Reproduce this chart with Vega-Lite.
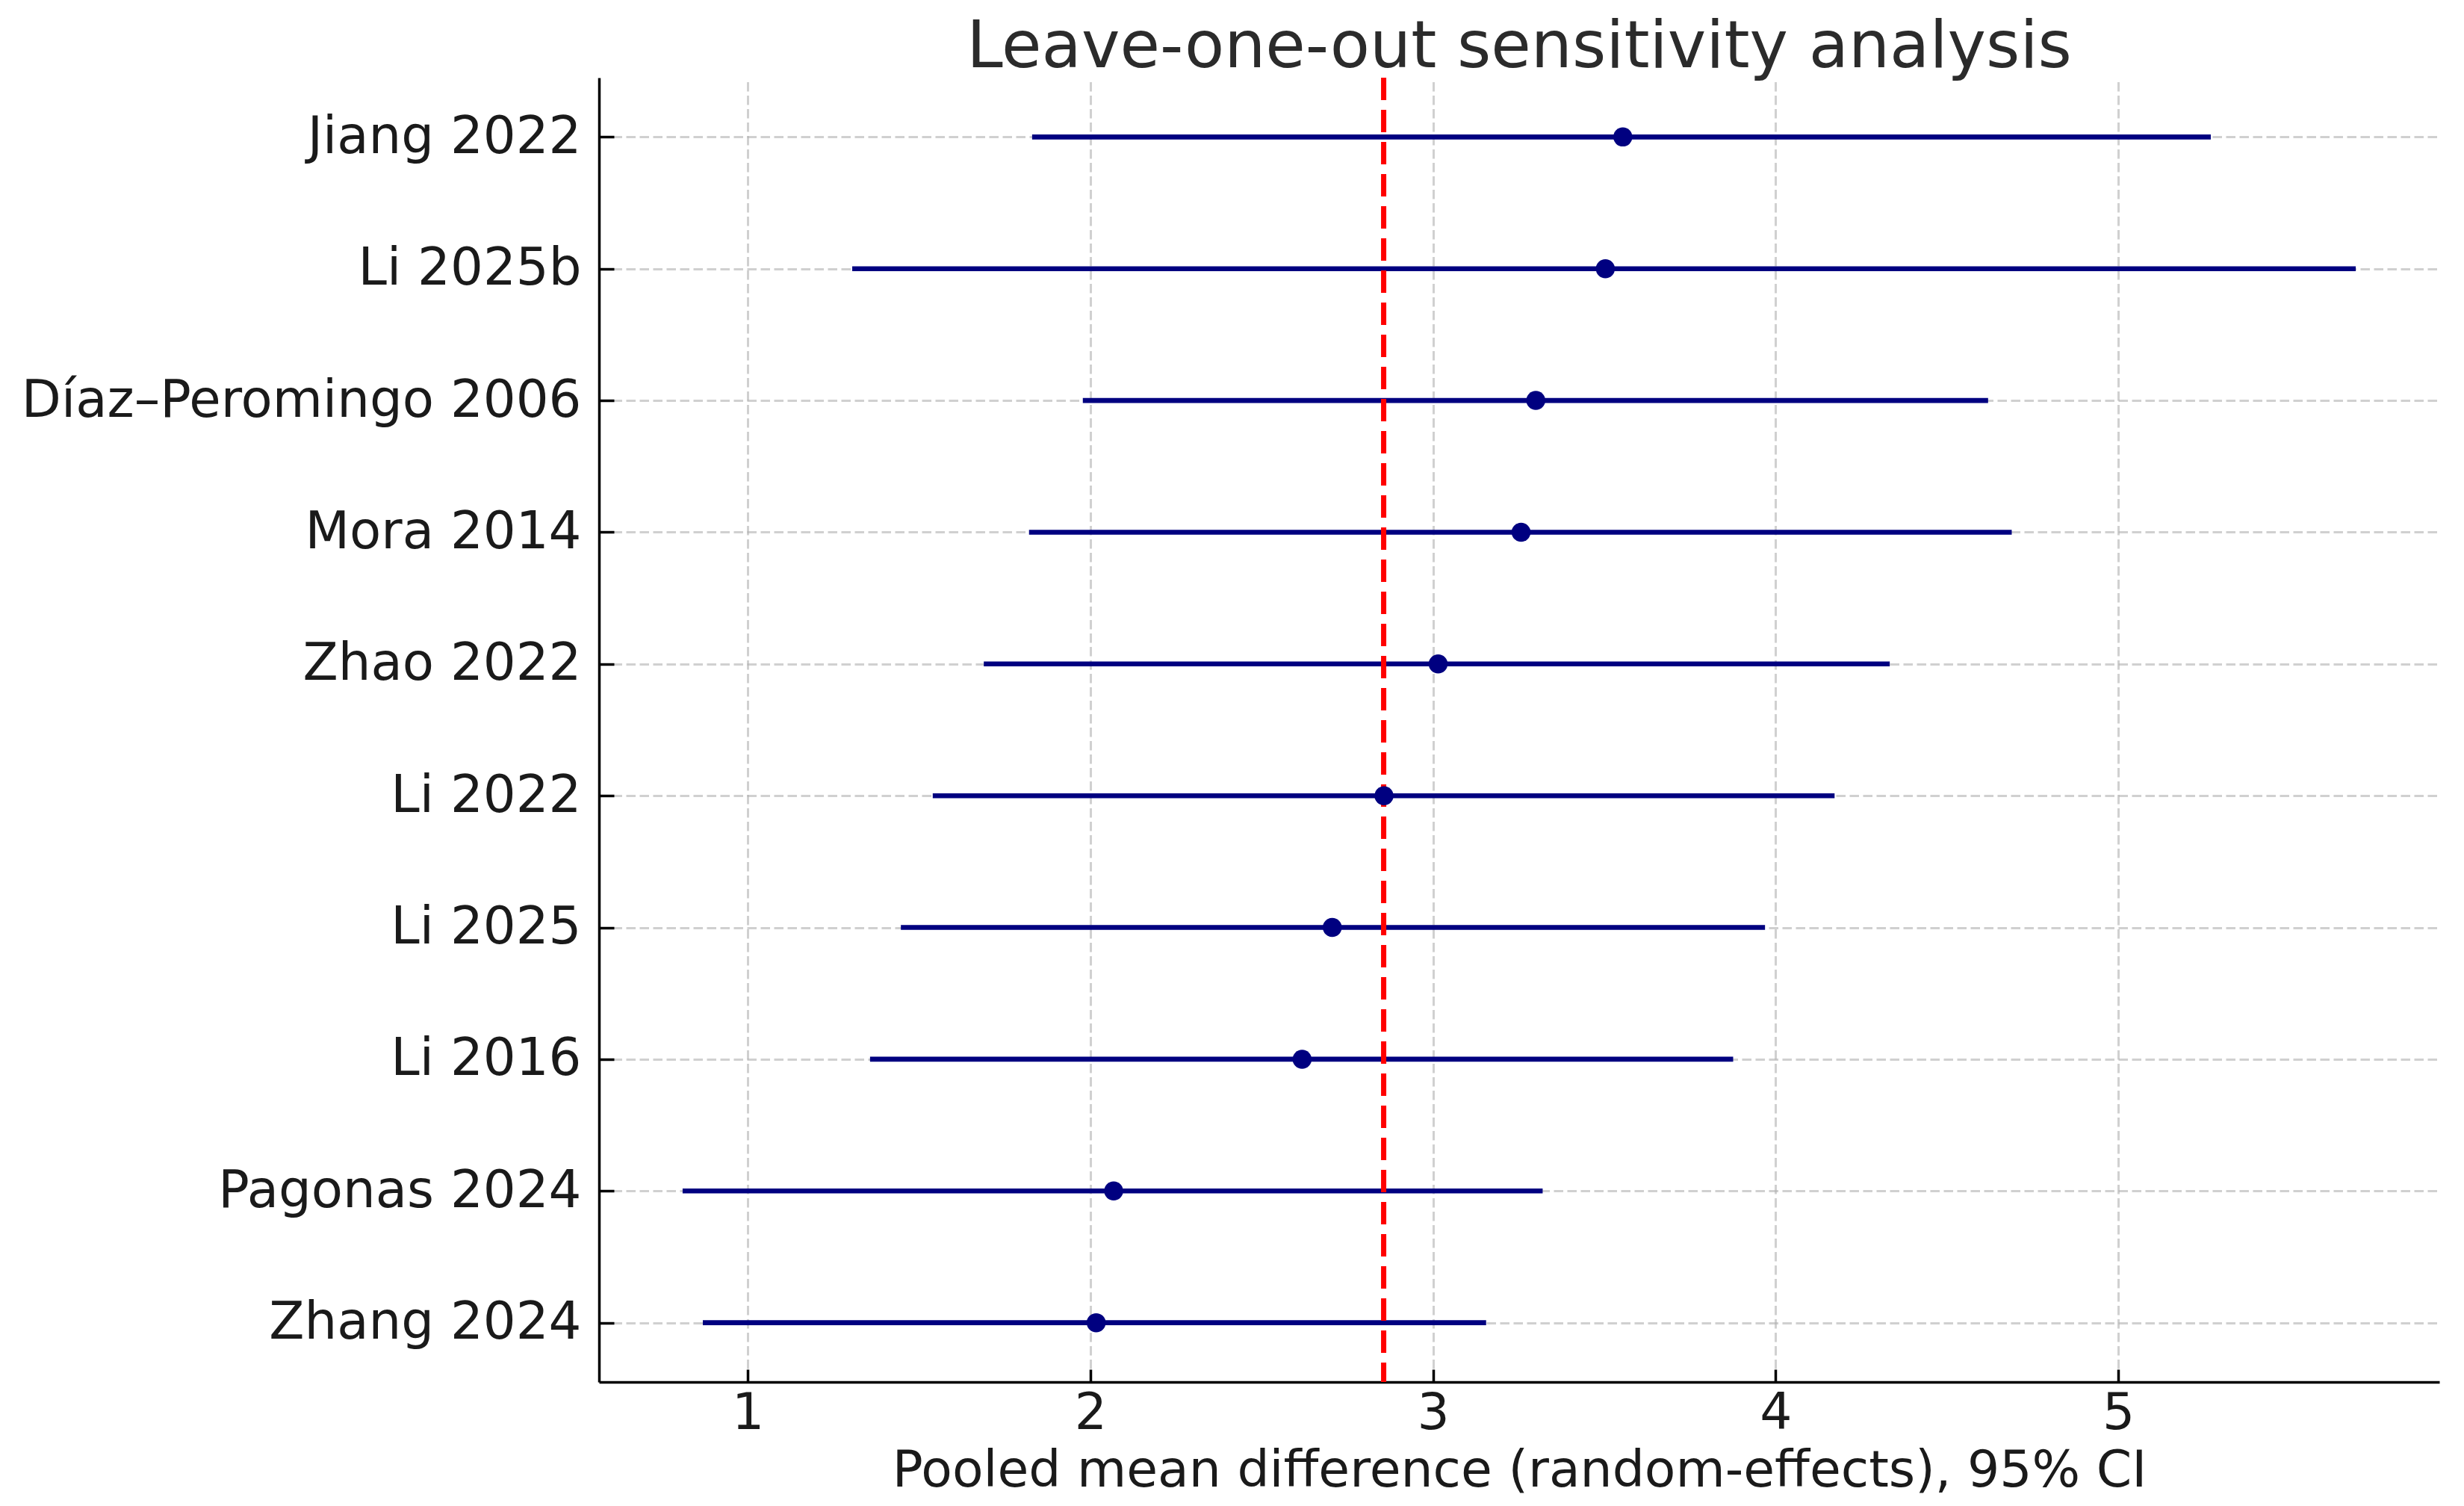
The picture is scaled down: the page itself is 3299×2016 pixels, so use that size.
{
  "$schema": "https://vega.github.io/schema/vega-lite/v6.json",
  "width": 2464,
  "height": 1746,
  "autosize": {"type": "none"},
  "padding": {"left": 802, "top": 104, "right": 33, "bottom": 166},
  "background": "white",
  "title": {
    "text": "Leave-one-out sensitivity analysis",
    "font": "DejaVu Sans",
    "fontSize": 87,
    "fontWeight": "normal",
    "color": "#2b2b2b",
    "anchor": "middle",
    "frame": "group",
    "baseline": "bottom",
    "offset": -94
  },
  "data": {
    "values": [
      {"study": "Jiang 2022", "mean": 3.554, "lower": 1.83, "upper": 5.27},
      {"study": "Li 2025b", "mean": 3.503, "lower": 1.305, "upper": 5.693},
      {"study": "Díaz–Peromingo 2006", "mean": 3.30, "lower": 1.978, "upper": 4.62},
      {"study": "Mora 2014", "mean": 3.257, "lower": 1.821, "upper": 4.689},
      {"study": "Zhao 2022", "mean": 3.015, "lower": 1.689, "upper": 4.333},
      {"study": "Li 2022", "mean": 2.857, "lower": 1.54, "upper": 4.172},
      {"study": "Li 2025", "mean": 2.706, "lower": 1.447, "upper": 3.969},
      {"study": "Li 2016", "mean": 2.618, "lower": 1.357, "upper": 3.876},
      {"study": "Pagonas 2024", "mean": 2.068, "lower": 0.81, "upper": 3.32},
      {"study": "Zhang 2024", "mean": 2.017, "lower": 0.869, "upper": 3.155}
    ]
  },
  "encoding": {
    "y": {
      "field": "study",
      "type": "nominal",
      "sort": null,
      "scale": {"type": "point", "padding": 0.45},
      "axis": {
        "title": null,
        "tickSize": -20,
        "labelPadding": 44,
        "labelFontSize": 69,
        "labelLimit": 3000,
        "labelAlign": "right"
      }
    }
  },
  "layer": [
    {
      "mark": {"type": "rule", "color": "#000080", "strokeWidth": 6.6},
      "encoding": {
        "x": {
          "field": "lower",
          "type": "quantitative",
          "scale": {"domain": [0.566, 5.937], "nice": false, "zero": false},
          "axis": {
            "values": [1, 2, 3, 4, 5],
            "format": "d",
            "title": "Pooled mean difference (random-effects), 95% CI",
            "tickSize": -17,
            "labelPadding": 25,
            "labelFontSize": 68,
            "titleFontSize": 68,
            "titlePadding": 9
          }
        },
        "x2": {"field": "upper"}
      }
    },
    {
      "data": {"values": [{"pooled": 2.856}]},
      "mark": {"type": "rule", "color": "#ff0000", "strokeWidth": 7, "strokeDash": [30, 13]},
      "encoding": {
        "x": {"field": "pooled", "type": "quantitative"},
        "y": null
      }
    },
    {
      "mark": {"type": "circle", "color": "#000080", "opacity": 1, "size": 650},
      "encoding": {
        "x": {"field": "mean", "type": "quantitative"}
      }
    }
  ],
  "config": {
    "view": {"stroke": null},
    "font": "DejaVu Sans",
    "axis": {
      "domainColor": "#000000",
      "domainWidth": 3.5,
      "tickColor": "#000000",
      "tickWidth": 3.5,
      "labelColor": "#1a1a1a",
      "labelFont": "DejaVu Sans",
      "titleFont": "DejaVu Sans",
      "titleColor": "#1a1a1a",
      "titleFontWeight": "normal",
      "grid": true,
      "gridColor": "#b0b0b0",
      "gridOpacity": 0.6,
      "gridWidth": 3,
      "gridDash": [12.5, 5.5]
    }
  }
}
